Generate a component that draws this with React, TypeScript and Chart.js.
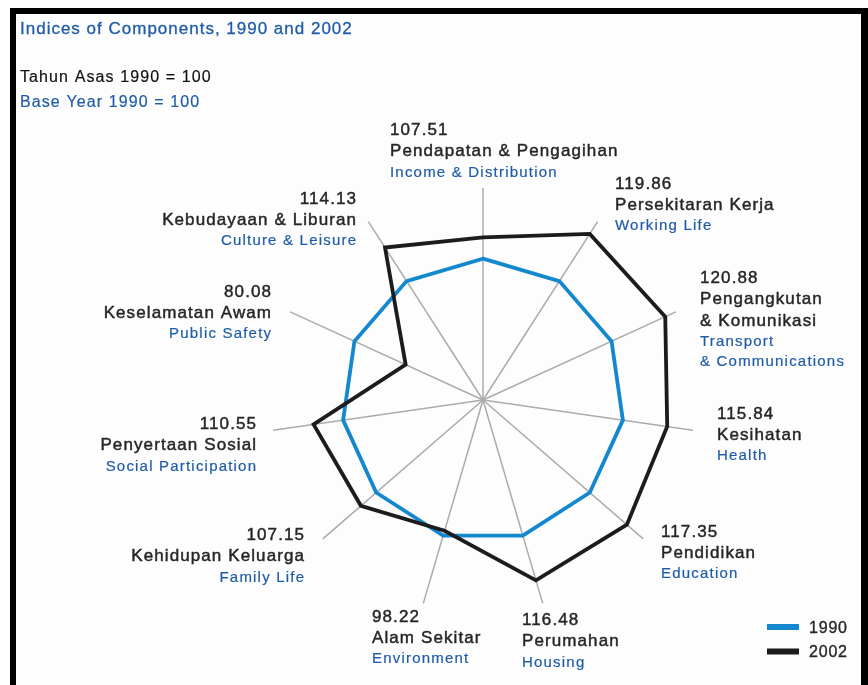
import React, { useEffect, useRef } from 'react';
import { Chart, registerables } from 'chart.js';

Chart.register(...registerables);

// ---------- data ----------
const valueLabels = ['107.51', '119.86', '120.88', '115.84', '117.35', '116.48', '98.22', '107.15', '110.55', '80.08', '114.13'];
const values2002 = [107.51, 119.86, 120.88, 115.84, 117.35, 116.48, 98.22, 107.15, 110.55, 80.08, 114.13];
const values1990 = [100, 100, 100, 100, 100, 100, 100, 100, 100, 100, 100];
const namesMs = [
  ['Pendapatan & Pengagihan'],
  ['Persekitaran Kerja'],
  ['Pengangkutan', '& Komunikasi'],
  ['Kesihatan'],
  ['Pendidikan'],
  ['Perumahan'],
  ['Alam Sekitar'],
  ['Kehidupan Keluarga'],
  ['Penyertaan Sosial'],
  ['Keselamatan Awam'],
  ['Kebudayaan & Liburan'],
];
const namesEn = [
  ['Income & Distribution'],
  ['Working Life'],
  ['Transport', '& Communications'],
  ['Health'],
  ['Education'],
  ['Housing'],
  ['Environment'],
  ['Family Life'],
  ['Social Participation'],
  ['Public Safety'],
  ['Culture & Leisure'],
];
const seriesNames = ['1990', '2002'];
const titleText = 'Indices of Components, 1990 and 2002';
const baseMs = 'Tahun Asas 1990 = 100';
const baseEn = 'Base Year 1990 = 100';

// ---------- styling / layout ----------
const BLUE_LINE = '#1488cf';
const BLACK_LINE = '#1c1c1c';
const TEXT_DARK = '#262626';
const TEXT_BLUE = '#1f5ca8';
const FONT = '"Liberation Sans", Arial, Helvetica, sans-serif';

// label anchor (x, first baseline, alignment) per category
const labelLayout: { x: number; y: number; align: CanvasTextAlign }[] = [
  { x: 390, y: 135, align: 'left' },
  { x: 615, y: 188.5, align: 'left' },
  { x: 700, y: 283, align: 'left' },
  { x: 717, y: 418.5, align: 'left' },
  { x: 661, y: 536.5, align: 'left' },
  { x: 522, y: 625, align: 'left' },
  { x: 372, y: 621.5, align: 'left' },
  { x: 304, y: 540, align: 'right' },
  { x: 256, y: 429, align: 'right' },
  { x: 271, y: 296.5, align: 'right' },
  { x: 356, y: 203.5, align: 'right' },
];

function drawText(
  ctx: CanvasRenderingContext2D,
  text: string,
  x: number,
  y: number,
  align: CanvasTextAlign,
  color: string,
  size: number,
  spacing: number,
  weight = 0
) {
  ctx.save();
  ctx.font = `${size}px ${FONT}`;
  (ctx as any).letterSpacing = `${spacing}px`;
  ctx.fillStyle = color;
  ctx.textAlign = align;
  ctx.textBaseline = 'alphabetic';
  const dx = align === 'right' ? spacing : 0;
  ctx.fillText(text, x + dx, y);
  if (weight > 0) {
    ctx.strokeStyle = color;
    ctx.lineWidth = weight;
    ctx.lineJoin = 'round';
    ctx.strokeText(text, x + dx, y);
  }
  ctx.restore();
}

const decorPlugin = {
  id: 'decor',
  beforeDraw(chart: any) {
    const ctx: CanvasRenderingContext2D = chart.ctx;
    ctx.save();
    ctx.fillStyle = '#ffffff';
    ctx.fillRect(0, 0, chart.width, chart.height);
    ctx.fillStyle = '#fdfdfd';
    ctx.fillRect(16, 14, 845, chart.height - 14);
    ctx.restore();
  },
  afterDraw(chart: any) {
    const ctx: CanvasRenderingContext2D = chart.ctx;
    // frame
    ctx.save();
    ctx.fillStyle = '#000000';
    ctx.fillRect(10, 8, 858, 6);
    ctx.fillRect(10, 8, 6, chart.height - 8);
    ctx.fillRect(861, 8, 7, chart.height - 8);
    ctx.restore();

    // header texts
    drawText(ctx, titleText, 20, 34, 'left', TEXT_BLUE, 17, 1.0, 0.3);
    drawText(ctx, baseMs, 20, 82, 'left', '#111111', 16, 1.1, 0.2);
    drawText(ctx, baseEn, 20, 107, 'left', TEXT_BLUE, 16, 1.1, 0.2);

    // category labels
    const n = valueLabels.length;
    for (let i = 0; i < n; i++) {
      const lay = labelLayout[i];
      let y = lay.y;
      drawText(ctx, valueLabels[i], lay.x, y, lay.align, TEXT_DARK, 17, 1.1, 0.45);
      for (const line of namesMs[i]) {
        y += 21.3;
        drawText(ctx, line, lay.x, y, lay.align, TEXT_DARK, 17, 1.1, 0.45);
      }
      for (const line of namesEn[i]) {
        y += 20.3;
        drawText(ctx, line, lay.x, y, lay.align, TEXT_BLUE, 15, 1.2, 0.2);
      }
    }

    // legend
    const legendColors = [BLUE_LINE, BLACK_LINE];
    const legendY = [627, 651.5];
    for (let i = 0; i < seriesNames.length; i++) {
      ctx.save();
      ctx.fillStyle = legendColors[i];
      ctx.fillRect(767, legendY[i] - 3, 32, 6);
      ctx.restore();
      drawText(ctx, seriesNames[i], 809, legendY[i] + 5.5, 'left', TEXT_DARK, 16, 0.8, 0.35);
    }
  },
};

export default function App() {
  const canvasRef = useRef<HTMLCanvasElement | null>(null);

  useEffect(() => {
    const canvas = canvasRef.current;
    if (!canvas) return;
    const chart = new Chart(canvas, {
      type: 'radar',
      data: {
        labels: namesEn.map((l) => l.join(' ')),
        datasets: [
          {
            label: seriesNames[1],
            data: values2002,
            borderColor: BLACK_LINE,
            backgroundColor: 'transparent',
            borderWidth: 3.8,
            fill: false,
            pointRadius: 0,
            pointHoverRadius: 0,
          },
          {
            label: seriesNames[0],
            data: values1990,
            borderColor: BLUE_LINE,
            backgroundColor: 'transparent',
            borderWidth: 3.8,
            fill: false,
            pointRadius: 0,
            pointHoverRadius: 0,
          },
        ],
      },
      options: {
        animation: false,
        responsive: false,
        maintainAspectRatio: false,
        layout: { padding: { left: 271, top: 188, right: 173, bottom: 73 } },
        elements: { line: { tension: 0, borderJoinStyle: 'miter' } },
        plugins: {
          legend: { display: false },
          tooltip: { enabled: false },
          title: { display: false },
        },
        scales: {
          r: {
            min: 50,
            max: 125,
            startAngle: 0,
            grid: { display: false },
            angleLines: { display: true, color: '#ababab', lineWidth: 1.5 },
            ticks: { display: false },
            pointLabels: { display: false },
          },
        },
      },
      plugins: [decorPlugin],
    });
    return () => chart.destroy();
  }, []);

  return (
    <div style={{ position: 'absolute', left: 0, top: 0, width: 868, height: 685 }}>
      <canvas ref={canvasRef} width={868} height={685} style={{ display: 'block', width: 868, height: 685 }} />
    </div>
  );
}
